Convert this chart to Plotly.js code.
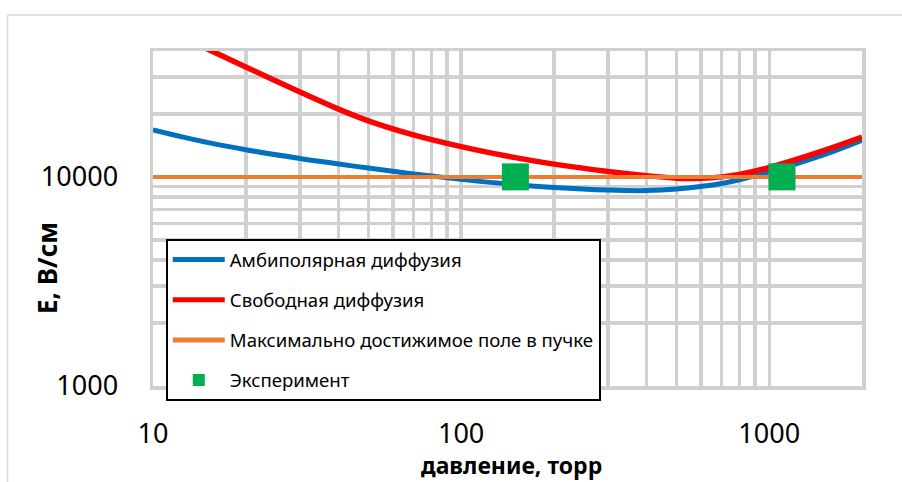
<!DOCTYPE html>
<html>
<head>
<meta charset="utf-8">
<script src="https://cdn.plot.ly/plotly-3.0.1.min.js"></script>
<style>html,body{margin:0;padding:0;background:#fff;}#chart{width:902px;height:482px;}</style>
</head>
<body>
<div id="chart"></div>
<script>
// Pressure, torr
const ambiX = [10, 15, 20, 30, 40, 50, 70, 100, 150, 200, 300, 400, 500, 700, 1000, 1500, 2000];
const ambiY = [16790, 14620, 13490, 12250, 11530, 11020, 10330, 9730, 9180, 8900, 8650, 8600, 8750, 9290, 10570, 12740, 14960];
const freeX = [10, 15, 20, 30, 40, 50, 70, 100, 150, 200, 300, 400, 500, 600, 700, 800, 1000, 1500, 2000];
const freeY = [54580, 40930, 33570, 25470, 21090, 18540, 15890, 13960, 12360, 11510, 10620, 10140, 9860, 9840, 10000, 10280, 11090, 13340, 15490];
const maxX = [10, 2000];
const maxY = [10000, 10000];
const expX = [150, 1100];
const expY = [10000, 10000];
const names = ['Амбиполярная диффузия', 'Свободная диффузия', 'Максимально достижимое поле в пучке', 'Эксперимент'];
const yTicks = [1000, 10000];
const yTickText = ['1000', '10000'];
const xTicks = [10, 100, 1000];
const xTickText = ['10', '100', '1000'];

const gridColor = '#D0D0D0';
const FONT = 'Noto Sans, Open Sans, sans-serif';

const traces = [
  {x: ambiX, y: ambiY, name: names[0], mode: 'lines', type: 'scatter', legendgroup: 'a',
   line: {color: '#0070C0', width: 5, shape: 'spline', smoothing: 1}},
  {x: freeX, y: freeY, name: names[1], mode: 'lines', type: 'scatter', legendgroup: 'b',
   line: {color: '#FF0000', width: 5.5, shape: 'spline', smoothing: 1}},
  {x: maxX, y: maxY, name: names[2], mode: 'lines', type: 'scatter', legendgroup: 'c',
   line: {color: '#ED7D31', width: 4}},
  {x: expX, y: expY, name: names[3], mode: 'markers', type: 'scatter', legendgroup: 'd',
   marker: {color: '#00B050', size: 27, symbol: 'square'}}
];

const axisCommon = {
  type: 'log', showgrid: true, gridcolor: gridColor, gridwidth: 3.5,
  showline: true, linecolor: gridColor, linewidth: 3.5, mirror: true,
  zeroline: false, ticks: 'outside', tickcolor: 'rgba(0,0,0,0)',
  tickfont: {family: FONT, size: 27, color: '#000'},
  minor: {dtick: 'D1', showgrid: true, gridcolor: gridColor, gridwidth: 3.5, ticks: ''}
};

const layout = {
  width: 902, height: 482,
  margin: {l: 153, r: 40, t: 51, b: 96},
  paper_bgcolor: '#fff', plot_bgcolor: '#fff',
  showlegend: true,
  xaxis: Object.assign({}, axisCommon, {
    range: [1, Math.log10(2000)], tickmode: 'array', tickvals: xTicks, ticktext: xTickText, ticklen: 21
  }),
  yaxis: Object.assign({}, axisCommon, {
    range: [3, Math.log10(40000)], tickmode: 'array', tickvals: yTicks, ticktext: yTickText, ticklen: 26
  }),
  legend: {
    x: 0.018, y: 0.439, xanchor: 'left', yanchor: 'top',
    bgcolor: '#fff', bordercolor: '#000', borderwidth: 2,
    font: {family: FONT, size: 18.6, color: '#000'},
    tracegroupgap: 13, itemsizing: 'constant', itemwidth: 52
  },
  annotations: [
    {text: '<b>давление, торр</b>', xref: 'paper', yref: 'paper', x: 0.506, y: -0.236,
     xanchor: 'center', yanchor: 'middle', showarrow: false,
     font: {family: FONT, size: 23, color: '#000'}},
    {text: '<b>E, В/см</b>', xref: 'paper', yref: 'paper', x: -0.1495, y: 0.352,
     xanchor: 'center', yanchor: 'middle', showarrow: false, textangle: -90,
     font: {family: FONT, size: 26, color: '#000'}}
  ],
  shapes: [
    {type: 'line', xref: 'paper', yref: 'paper', x0: -0.2052, x1: -0.2052, y0: 1.1075, y1: -0.29,
     line: {color: '#D9D9D9', width: 1.5}},
    {type: 'line', xref: 'paper', yref: 'paper', x0: -0.2052, x1: 1.06, y0: 1.1075, y1: 1.1075,
     line: {color: '#D9D9D9', width: 1.5}}
  ]
};

Plotly.newPlot('chart', traces, layout, {displayModeBar: false, staticPlot: true});
</script>
</body>
</html>
